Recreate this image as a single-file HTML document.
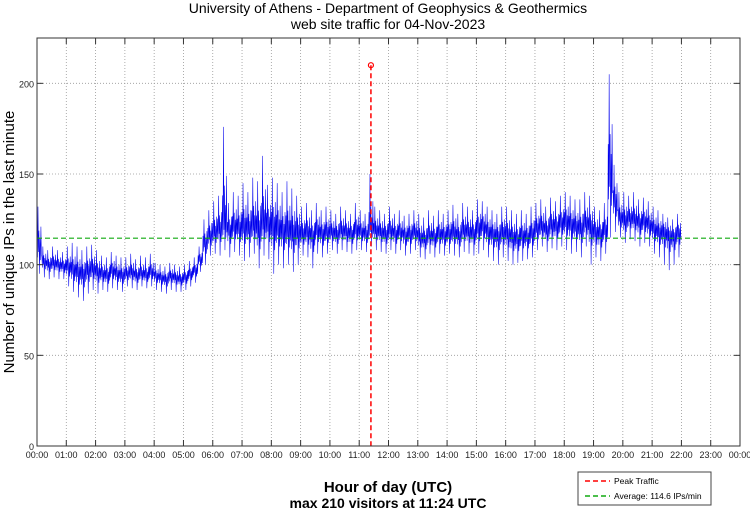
<!DOCTYPE html>
<html><head><meta charset="utf-8"><style>
html,body{margin:0;padding:0;background:#fff;}
svg{display:block;font-family:"Liberation Sans",sans-serif;}
</style></head><body>
<svg id="chart" width="750" height="511" viewBox="0 0 750 511">
<text x="388" y="13" font-size="14" text-anchor="middle">University of Athens - Department of Geophysics &amp; Geothermics</text>
<text x="388" y="29" font-size="14" text-anchor="middle">web site traffic for 04-Nov-2023</text>
<text transform="translate(14,242) rotate(-90)" font-size="15" text-anchor="middle">Number of unique IPs in the last minute</text>
<text x="388" y="492" font-size="15" text-anchor="middle" font-weight="bold">Hour of day (UTC)</text>
<text x="388" y="508" font-size="14" text-anchor="middle" font-weight="bold">max 210 visitors at 11:24 UTC</text>
<g id="grid"></g><g id="series"></g><g id="overlay"></g><g id="axes"></g>
<g>
<rect x="578" y="472" width="133" height="33" fill="#fff" stroke="#444" stroke-width="1"/>
<line x1="585" y1="481" x2="610" y2="481" stroke="#f00" stroke-width="1.5" stroke-dasharray="5,3"/>
<text x="614" y="484" font-size="8.5">Peak Traffic</text>
<line x1="585" y1="496" x2="610" y2="496" stroke="#1a1" stroke-width="1.5" stroke-dasharray="5,3"/>
<text x="614" y="499" font-size="8.5">Average: 114.6 IPs/min</text>
</g>
</svg>
<script>
const yTicks=[0,50,100,150,200];
const xTickLabels=["00:00","01:00","02:00","03:00","04:00","05:00","06:00","07:00","08:00","09:00","10:00","11:00","12:00","13:00","14:00","15:00","16:00","17:00","18:00","19:00","20:00","21:00","22:00","23:00","00:00"];
const binMinutes=10;
const mid=[110,102,100,101,100,99, 99,97,96,95,97,98, 96,95,94,97,95,94, 95,96,94,95,94,96, 94,93,92,94,93,92, 93,95,97,103,112,116, 118,120,122,119,121,120, 121,120,122,119,123,122, 121,120,118,119,117,118, 117,118,116,119,117,118, 118,117,119,118,117,119, 118,117,120,119,118,117, 119,117,118,116,117,118, 115,114,116,115,117,116, 117,118,116,119,118,117, 120,121,118,117,116,118, 117,115,114,116,115,117, 120,121,119,122,121,123, 124,122,121,120,123,121, 118,117,119,150,135,126, 124,126,125,123,124,122, 120,118,119,117,116,118];
const lo=[95,93,92,93,92,92, 88,85,82,80,84,86, 84,86,85,87,86,85, 88,87,86,88,87,88, 86,85,84,86,85,85, 86,88,90,96,100,105, 106,105,108,104,107,105, 102,104,106,98,105,103, 95,100,98,100,96,100, 105,104,98,106,104,106, 108,106,108,107,106,108, 108,107,110,108,107,106, 108,106,108,105,106,108, 104,103,106,104,106,105, 106,105,104,107,106,105, 106,108,104,102,100,104, 102,100,101,102,103,104, 108,110,107,109,108,110, 108,106,107,104,110,100, 104,102,106,115,118,115, 112,114,113,110,112,110, 106,104,100,97,100,104];
const hi=[132,110,108,110,108,107, 110,112,110,108,110,111, 108,105,104,107,105,104, 104,106,103,105,104,106, 101,100,99,101,100,99, 100,102,104,110,125,130, 135,138,176,134,140,138, 145,140,148,146,160,144, 148,145,140,146,142,138, 132,134,130,134,130,132, 130,128,132,130,128,134, 130,128,150,132,130,128, 132,128,130,127,128,130, 128,126,130,127,130,128, 130,133,128,134,132,130, 136,135,132,130,128,132, 132,130,128,130,128,132, 134,136,132,137,135,138, 140,138,136,136,140,138, 132,130,134,205,155,140, 140,138,140,136,137,135, 132,130,128,126,125,128];
const average=114.6;
const peakValue=210, peakMinute=684;

const L=37,R=740,T=38,B=446,YMAX=225;
const x=m=>L+(R-L)*m/1440;
const y=v=>B-(B-T)*v/YMAX;
const NS="http://www.w3.org/2000/svg";
function mk(tag,parent,attrs){const e=document.createElementNS(NS,tag);for(const k in attrs)e.setAttribute(k,attrs[k]);parent.appendChild(e);return e;}
const grid=document.getElementById('grid'),axes=document.getElementById('axes'),series=document.getElementById('series'),ov=document.getElementById('overlay');
xTickLabels.forEach((t,i)=>{const xx=x(i*60);
 if(i>0&&i<24){const g=mk('line',grid,{x1:xx,x2:xx,y1:T,y2:B,stroke:'#999','stroke-width':0.8,'stroke-dasharray':'1,2'});
 
 }
 mk('line',axes,{x1:xx,x2:xx,y1:B,y2:B-6,stroke:'#333','stroke-width':1});
 mk('line',axes,{x1:xx,x2:xx,y1:T,y2:T+6,stroke:'#333','stroke-width':1});
 const tx=mk('text',axes,{x:xx,y:B+12,'font-size':9,'text-anchor':'middle',fill:'#222'});tx.textContent=t;
 
 });
yTicks.forEach(v=>{const yy=y(v);
 if(v>0){const g=mk('line',grid,{x1:L,x2:R,y1:yy,y2:yy,stroke:'#999','stroke-width':0.8,'stroke-dasharray':'1,2'});
 
 }
 mk('line',axes,{x1:L,x2:L+6,y1:yy,y2:yy,stroke:'#333'});
 mk('line',axes,{x1:R,x2:R-6,y1:yy,y2:yy,stroke:'#333'});
 const tx=mk('text',axes,{x:L-3,y:yy+4,'font-size':9,'text-anchor':'end',fill:'#222'});tx.textContent=v;
 
 });
const frame=mk('rect',axes,{x:L,y:T,width:R-L,height:B-T,fill:'none',stroke:'#333','stroke-width':1});


const pat=[0.3,-0.4,1,-0.2,0.4,-1,0.2,-0.5,0.5,-0.3];
let pts=[];
mid.forEach((m,i)=>{for(let k=0;k<binMinutes;k++){const f=pat[k];const v=f>=0?m+f*(hi[i]-m):m+(-f)*(lo[i]-m);pts.push(x(i*binMinutes+k).toFixed(2)+','+y(v).toFixed(2));}});
const line=mk('polyline',series,{points:pts.join(' '),fill:'none',stroke:'#0000ee','stroke-width':0.55});


const av=mk('line',ov,{x1:L,x2:R,y1:y(average),y2:y(average),stroke:'#1a1','stroke-width':1.2,'stroke-dasharray':'5,3'});


const pk=mk('line',ov,{x1:x(peakMinute),x2:x(peakMinute),y1:y(peakValue),y2:B,stroke:'#f00','stroke-width':1.5,'stroke-dasharray':'5,3'});


const pc=mk('circle',ov,{cx:x(peakMinute),cy:y(peakValue),r:2.5,fill:'none',stroke:'#f00','stroke-width':1.2});


</script>
</body></html>
